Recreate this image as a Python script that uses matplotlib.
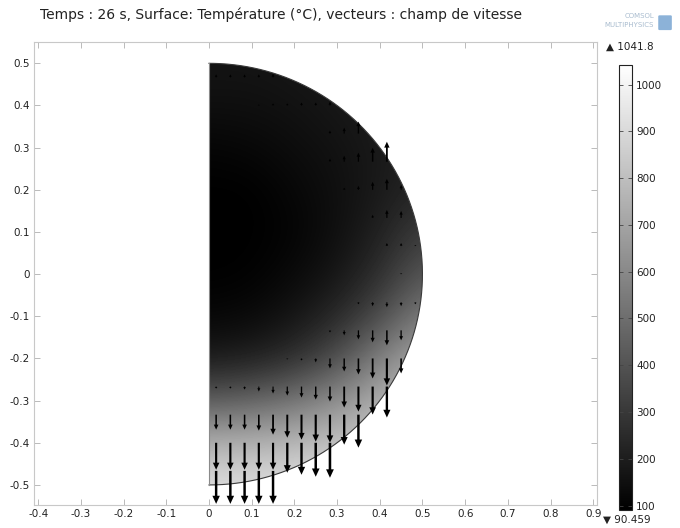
import numpy as np
import matplotlib
matplotlib.use("Agg")
import matplotlib.pyplot as plt
from matplotlib.patches import Wedge, FancyBboxPatch

plt.rcParams['font.family'] = ['DejaVu Sans']
plt.rcParams['axes.unicode_minus'] = False

# --- data ---
titre = "Temps : 26 s, Surface: Température (°C), vecteurs : champ de vitesse"
t_min = 90.459
t_max = 1041.8

# temperature samples (°C) on a coarse grid, rows from y=0.5 down to y=-0.5
grid_x = [0.0, 0.1, 0.2, 0.3, 0.4, 0.5]
grid_y = [0.5, 0.4, 0.3, 0.2, 0.1, 0.0, -0.1, -0.2, -0.3, -0.4, -0.5]
temperature = [
    [166, 166, 176, 185, 204, 223],
    [147, 147, 157, 176, 195, 214],
    [109, 119, 138, 157, 185, 214],
    [ 90,  90, 119, 147, 185, 233],
    [ 90,  90, 105, 147, 210, 320],
    [ 90,  95, 125, 170, 262, 415],
    [115, 125, 166, 240, 370, 560],
    [185, 204, 261, 380, 575, 715],
    [430, 460, 525, 620, 740, 810],
    [740, 750, 770, 808, 855, 900],
    [920, 920, 930, 946, 965, 975],
]

# velocity arrows: 15 x 15 sampling grid, vertical component (arrow length units, + = up)
arrow_x = [(c + 0.5) / 30 for c in range(15)]
arrow_y = [0.5 - (r + 0.5) / 15 for r in range(15)]
vitesse_v = [
    [3, 3, 3, 3, 4, 0, 0, 0, 0, 0, 0, 0, 0, 0, 0],
    [0, 0, 0, 1, 2, 2, 3, 3, 4, 0, 0, 0, 0, 0, 0],
    [0, 0, 0, 0, 0, 0, 0, 0, 3, 6, 12, 0, 0, 0, 0],
    [0, 0, 0, 0, 0, 0, 0, 0, 3, 6, 9, 14, 20, 0, 0],
    [0, 0, 0, 0, 0, 0, 0, 0, 0, 2, 4, 8, 11, 5, 0],
    [0, 0, 0, 0, 0, 0, 0, 0, 0, 0, 0, 3, 8, 7, 0],
    [0, 0, 0, 0, 0, 0, 0, 0, 0, 0, 0, 0, 3, 3, 1],
    [0, 0, 0, 0, 0, 0, 0, 0, 0, 0, 0, 0, 0, 1, 0],
    [0, 0, 0, 0, 0, 0, 0, 0, 0, 0, -2, -4, -5, -4, -2],
    [0, 0, 0, 0, 0, 0, 0, 0, -2, -5, -9, -12, -15, -10, 0],
    [0, 0, 0, 0, 0, -1, -2, -4, -10, -13, -16, -20, -27, -15, 0],
    [-2, -2, -3, -5, -7, -9, -11, -13, -15, -21, -25, -28, -31, 0, 0],
    [-15, -15, -15, -16, -20, -23, -25, -27, -28, -30, -33, 0, 0, 0, 0],
    [-27, -27, -27, -27, -27, -30, -32, -34, -35, 0, 0, 0, 0, 0, 0],
    [-33, -33, -33, -33, -33, 0, 0, 0, 0, 0, 0, 0, 0, 0, 0],
]

x_ticks = [-0.4, -0.3, -0.2, -0.1, 0, 0.1, 0.2, 0.3, 0.4, 0.5, 0.6, 0.7, 0.8, 0.9]
y_ticks = [-0.5, -0.4, -0.3, -0.2, -0.1, 0, 0.1, 0.2, 0.3, 0.4, 0.5]
cbar_ticks = [100, 200, 300, 400, 500, 600, 700, 800, 900, 1000]

rayon = 0.5

fig = plt.figure(figsize=(6.8, 5.28), dpi=100)
ax = fig.add_axes([0.050, 0.044, 0.828, 0.876])

# temperature surface, clipped to the half disc
dx = grid_x[1] - grid_x[0]
dy = grid_y[0] - grid_y[1]
im = ax.imshow(np.array(temperature, dtype=float), cmap='gray', vmin=t_min, vmax=t_max,
               extent=(grid_x[0] - dx / 2, grid_x[-1] + dx / 2, grid_y[-1] - dy / 2, grid_y[0] + dy / 2),
               origin='upper', interpolation='bicubic', aspect='auto', zorder=1)
clip = Wedge((0, 0), rayon, -90, 90, transform=ax.transData)
im.set_clip_path(clip)

# domain outline
th = np.linspace(-np.pi / 2, np.pi / 2, 300)
ax.plot(rayon * np.cos(th), rayon * np.sin(th), color='#3a3a3a', lw=0.8, zorder=2)
ax.plot([0, 0], [-rayon, rayon], color='#8a8a8a', lw=0.8, zorder=2)

# arrows (1 length unit ~ 1 px of the reference, 42.7 px per 0.1)
px_x = 0.1 / 42.7
px_y = 0.1 / 42.2
for r, yv in enumerate(arrow_y):
    for c, xv in enumerate(arrow_x):
        v = vitesse_v[r][c]
        if abs(v) < 1 or xv ** 2 + yv ** 2 > rayon ** 2:
            continue
        L = abs(v)
        hl = min(2.5 + 0.17 * L, 0.8 * L)
        ax.arrow(xv, yv, 0, v * px_y,
                 width=(0.8 + 0.05 * L) * px_x,
                 head_width=(2.2 + 0.16 * L) * px_x,
                 head_length=hl * px_y,
                 length_includes_head=True, fc='black', ec='none', zorder=3)

ax.set_xlim(-0.41, 0.909)
ax.set_ylim(-0.547, 0.55)
ax.set_xticks(x_ticks)
ax.set_xticklabels([f"{t:g}" for t in x_ticks])
ax.set_yticks(y_ticks)
ax.set_yticklabels([f"{t:g}" for t in y_ticks])
ax.tick_params(direction='in', top=True, right=True, length=4, width=0.6,
               color='#b0b0b0', labelsize=7.5, labelcolor='#222222', pad=3)
for s in ax.spines.values():
    s.set_color('#c8c8c8')
    s.set_linewidth(0.8)

# colour bar
cax = fig.add_axes([0.910, 0.034, 0.0195, 0.843])
cb = fig.colorbar(im, cax=cax)
cb.set_ticks(cbar_ticks)
cb.set_ticklabels([str(t) for t in cbar_ticks])
cax.tick_params(direction='in', left=True, right=True, length=3, width=0.6,
                color='#444444', labelsize=7.5, labelcolor='#222222', pad=3)
cb.outline.set_edgecolor('#222222')
cb.outline.set_linewidth(0.8)

fig.text(0.891, 0.911, "▲ " + f"{t_max:g}", fontsize=7.5, color='#222222', va='center', ha='left')
fig.text(0.887, 0.015, "▼ " + f"{t_min:g}", fontsize=7.5, color='#222222', va='center', ha='left')

fig.text(40 / 680, 1 - 15 / 528, titre, fontsize=10, color='#222222', va='center', ha='left')

# logo
fig.text(0.940, 0.970, "COMSOL", fontsize=5, color='#a9bccf', ha='center', va='center')
fig.text(0.925, 0.952, "MULTIPHYSICS", fontsize=5, color='#a9bccf', ha='center', va='center')
fig.patches.append(FancyBboxPatch((0.970, 0.945), 0.016, 0.024, boxstyle='round,pad=0.002',
                                  transform=fig.transFigure, fc='#6f9fcf', ec='none', alpha=0.8))

fig.savefig("out.png", dpi=100)
